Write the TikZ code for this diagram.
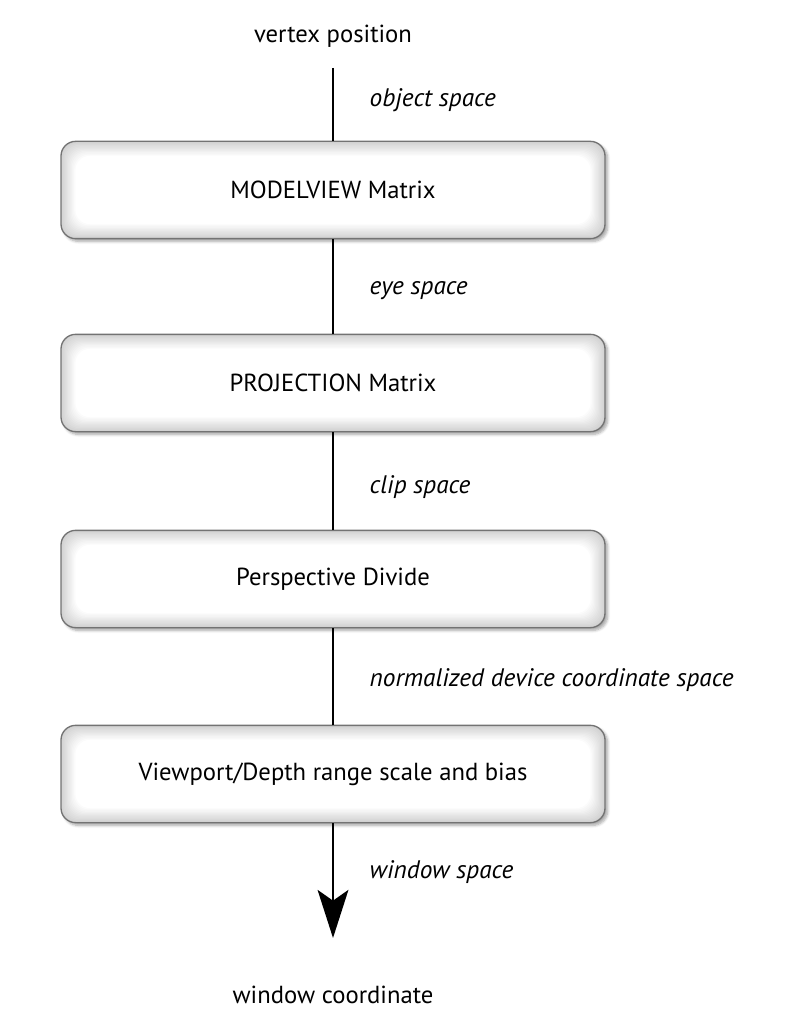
\documentclass[tikz,border=0pt]{standalone}
\usepackage{fontspec}
\setmainfont{PT Sans}
\usetikzlibrary{shadows.blur,arrows.meta}
\begin{document}
\begin{tikzpicture}[x=0.75pt,y=-0.75pt,
  stage/.style={draw=black!55, line width=1pt, rounded corners=11pt,
    minimum width=408pt, minimum height=73pt, fill=white,
    path picture={
      \foreach \i in {0,...,12}{
        \pgfmathsetmacro\c{18-1.5*\i}
        \fill[black!\c, rounded corners=11pt]
          ([shift={(\i*0.9pt,-\i*0.9pt)}]path picture bounding box.north west) rectangle
          ([shift={(-\i*0.9pt,\i*0.9pt)}]path picture bounding box.south east);
      }},
    blur shadow={shadow xshift=2pt, shadow yshift=-2pt, shadow blur steps=6, shadow opacity=35},
    font=\fontsize{18.5}{21}\selectfont},
  lbl/.style={anchor=west, font=\fontsize{19}{21}\selectfont\itshape},
  end/.style={font=\fontsize{18.5}{21}\selectfont},
  flow/.style={line width=2.2pt}]
\useasboundingbox (0,0) rectangle (796,1034);
\node[end] (vp) at (333,36) {vertex position};
\coordinate (top) at (333,68);
\node[stage] (mv) at (333,190) {MODELVIEW Matrix};
\node[stage] (pr) at (333,383) {PROJECTION Matrix};
\node[stage] (pd) at (333,579) {Perspective Divide};
\node[stage] (vd) at (333,774) {Viewport/Depth range scale and bias};
\coordinate (bot) at (333,938);
\node[end] (wc) at (333,995) {window coordinate};
\draw[flow] (top) -- (mv.north);
\draw[flow] (mv.south) -- (pr.north);
\draw[flow] (pr.south) -- (pd.north);
\draw[flow] (pd.south) -- (vd.north);
\draw[flow, -{Stealth[length=36pt, width=23pt, inset=8pt]}] (vd.south) -- (bot);
\node[lbl] (l1) at (365,100) {object space};
\node[lbl] (l2) at (365,291) {eye space};
\node[lbl] (l3) at (365,487) {clip space};
\node[lbl] (l4) at (365,680) {normalized device coordinate space};
\node[lbl] (l5) at (365,872) {window space};
\end{tikzpicture}
\end{document}
